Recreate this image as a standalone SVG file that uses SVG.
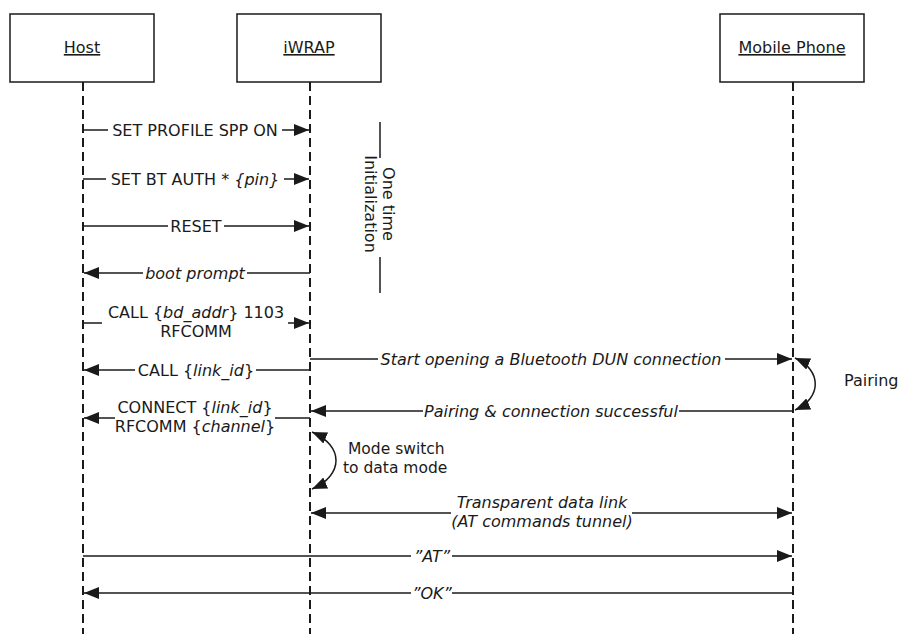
<svg xmlns="http://www.w3.org/2000/svg" width="898" height="634" viewBox="0 0 898 634">
<style>
text{font-family:"DejaVu Sans","Verdana",sans-serif;font-size:16px;fill:#1a1a1a}
.c{text-anchor:middle}
.i{font-style:italic}
.u{text-decoration:underline}
.s{font-size:15.5px}
.box{fill:#fff;stroke:#1a1a1a;stroke-width:1.5}
.life{stroke:#1a1a1a;stroke-width:2;stroke-dasharray:9,5;fill:none}
.msg{stroke:#1a1a1a;stroke-width:1.5;fill:none}
.end{marker-end:url(#ah)}
.both{marker-start:url(#ah);marker-end:url(#ah)}
.bg{fill:#fff}
</style>
<defs>
<marker id="ah" viewBox="0 0 15 12" refX="15" refY="6" markerWidth="15" markerHeight="12" markerUnits="userSpaceOnUse" orient="auto-start-reverse">
<path d="M0,0 L15,6 L0,12 z" fill="#1a1a1a"/>
</marker>
</defs>
<rect width="898" height="634" fill="#fff"/>

<g id="host">
<rect class="box" x="10" y="14" width="144" height="68"/>
<text class="c u" x="82" y="53">Host</text>
<line class="life" x1="83" y1="82" x2="83" y2="634"/>
</g>
<g id="iwrap">
<rect class="box" x="237" y="14" width="144" height="68"/>
<text class="c u" x="309" y="53">iWRAP</text>
<line class="life" x1="310" y1="82" x2="310" y2="634"/>
</g>
<g id="phone">
<rect class="box" x="720" y="14" width="144" height="68"/>
<text class="c u" x="792" y="53">Mobile Phone</text>
<line class="life" x1="793" y1="82" x2="793" y2="634"/>
</g>

<g id="init-note">
<line class="msg" x1="380" y1="122" x2="380" y2="158"/>
<line class="msg" x1="380" y1="257" x2="380" y2="293"/>
<g transform="translate(380,204) rotate(90)">
<text class="c" x="0" y="-3">One time</text>
<text class="c" x="0" y="15">Initialization</text>
</g>
</g>

<g id="connectors">
<line class="msg end" x1="83" y1="130" x2="309" y2="130"/>
<rect class="bg" x="108" y="121" width="174" height="18"/>
<text class="c" x="195" y="135.5">SET PROFILE SPP ON</text>

<line class="msg end" x1="83" y1="179" x2="309" y2="179"/>
<rect class="bg" x="106" y="170" width="178" height="18"/>
<text class="c" x="195" y="184.5">SET BT AUTH * <tspan class="i">{pin}</tspan></text>

<line class="msg end" x1="83" y1="226" x2="309" y2="226"/>
<rect class="bg" x="168" y="217" width="56" height="18"/>
<text class="c" x="196" y="231.5">RESET</text>

<line class="msg end" x1="310" y1="273" x2="84" y2="273"/>
<rect class="bg" x="143" y="264" width="104" height="18"/>
<text class="c i" x="195" y="278.5">boot prompt</text>

<line class="msg end" x1="83" y1="323" x2="309" y2="323"/>
<rect class="bg" x="102" y="304" width="186" height="36"/>
<text class="c" x="196" y="318">CALL {<tspan class="i">bd_addr</tspan>} 1103</text>
<text class="c" x="196" y="337">RFCOMM</text>

<line class="msg end" x1="310" y1="359" x2="792" y2="359"/>
<rect class="bg" x="378" y="350" width="347" height="18"/>
<text class="c i" x="551" y="364.5">Start opening a Bluetooth DUN connection</text>

<line class="msg end" x1="310" y1="370" x2="84" y2="370"/>
<rect class="bg" x="135" y="361" width="121" height="18"/>
<text class="c" x="196" y="375.5">CALL {<tspan class="i">link_id</tspan>}</text>

<line class="msg end" x1="793" y1="411" x2="311" y2="411"/>
<rect class="bg" x="423" y="402" width="256" height="18"/>
<text class="c i" x="551" y="416.5">Pairing &amp; connection successful</text>

<line class="msg end" x1="310" y1="418" x2="84" y2="418"/>
<rect class="bg" x="115" y="400" width="160" height="36"/>
<text class="c" x="195" y="413">CONNECT {<tspan class="i">link_id</tspan>}</text>
<text class="c" x="195" y="432">RFCOMM {<tspan class="i">channel</tspan>}</text>

<path class="msg both" d="M795,358 C822,370 822,398 795,410"/>
<text x="844" y="386">Pairing</text>

<path class="msg both" d="M312,432 C344,446 344,475 312,489"/>
<text class="s" x="348" y="454">Mode switch</text>
<text class="s" x="343" y="473">to data mode</text>

<line class="msg both" x1="311" y1="513" x2="792" y2="513"/>
<rect class="bg" x="451" y="494" width="181" height="36"/>
<text class="c i" x="542" y="508">Transparent data link</text>
<text class="c i" x="542" y="527">(AT commands tunnel)</text>

<line class="msg end" x1="83" y1="556" x2="792" y2="556"/>
<rect class="bg" x="411" y="547" width="41" height="18"/>
<text class="c i" x="432" y="561.5">”AT”</text>

<line class="msg end" x1="793" y1="593" x2="84" y2="593"/>
<rect class="bg" x="411" y="584" width="41" height="18"/>
<text class="c i" x="432" y="598.5">”OK”</text>
</g>
</svg>
